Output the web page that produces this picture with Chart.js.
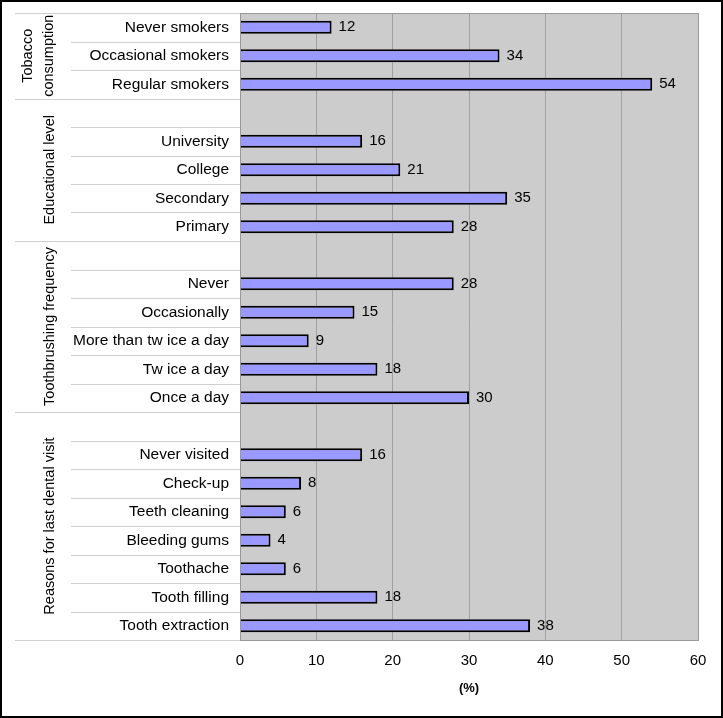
<!DOCTYPE html>
<html>
<head>
<meta charset="utf-8">
<script src="https://cdn.jsdelivr.net/npm/chart.js@4"></script>
<style>
  html, body { margin: 0; padding: 0; background: #fff; }
  #wrap { width: 723px; height: 718px; position: relative; }
</style>
</head>
<body>
<div id="wrap"><canvas id="chart" width="723" height="718"></canvas></div>
<script>
// categories top to bottom; '' rows are the gaps between groups
const categories = [
  'Never smokers', 'Occasional smokers', 'Regular smokers',
  '',
  'University', 'College', 'Secondary', 'Primary',
  '',
  'Never', 'Occasionally', 'More than tw ice a day', 'Tw ice a day', 'Once a day',
  '',
  'Never visited', 'Check-up', 'Teeth cleaning', 'Bleeding gums', 'Toothache', 'Tooth filling', 'Tooth extraction'
];
const values = [
  12, 34, 54,
  null,
  16, 21, 35, 28,
  null,
  28, 15, 9, 18, 30,
  null,
  16, 8, 6, 4, 6, 18, 38
];
// groups: [label lines, first row index, last row index]
const groups = [
  [['Tobacco', 'consumption'], 0, 2],
  [['Educational level'], 3, 7],
  [['Toothbrushing frequency'], 8, 13],
  [['Reasons for last dental visit'], 14, 21]
];
const xTicks = [0, 10, 20, 30, 40, 50, 60];
const xTitle = '(%)';

const FONT = '"Liberation Sans", Arial, sans-serif';

const decor = {
  id: 'decor',
  beforeDraw(chart) {
    const { ctx, chartArea: a } = chart;
    ctx.save();
    ctx.fillStyle = '#cccccc';
    ctx.fillRect(a.left, a.top, a.right - a.left, a.bottom - a.top);
    ctx.restore();
  },
  afterDraw(chart) {
    const { ctx, chartArea: a } = chart;
    const y = chart.scales.y;
    const half = (y.getPixelForValue(1) - y.getPixelForValue(0)) / 2;
    const groupEdges = new Set();
    groups.forEach(g => { groupEdges.add(g[1]); groupEdges.add(g[2] + 1); });
    ctx.save();
    // row separators in the label area
    ctx.strokeStyle = '#cfcfcf';
    ctx.lineWidth = 1;
    for (let i = 0; i <= categories.length; i++) {
      const py = Math.round(y.getPixelForValue(i) - half) + 0.5;
      const x0 = groupEdges.has(i) ? 15 : 71;
      ctx.beginPath();
      ctx.moveTo(x0, py);
      ctx.lineTo(a.left, py);
      ctx.stroke();
    }
    // plot border
    ctx.strokeStyle = '#999999';
    ctx.strokeRect(Math.round(a.left) + 0.5, Math.round(a.top) + 0.5,
      Math.round(a.right - a.left), Math.round(a.bottom - a.top));
    // group labels, rotated
    ctx.fillStyle = '#000';
    ctx.font = '14.5px ' + FONT;
    ctx.textAlign = 'center';
    ctx.textBaseline = 'middle';
    groups.forEach(([lines, first, last]) => {
      const top = y.getPixelForValue(first) - half;
      const bot = y.getPixelForValue(last) + half;
      const cy = (top + bot) / 2;
      ctx.save();
      ctx.translate(0, cy);
      ctx.rotate(-Math.PI / 2);
      if (lines.length === 2) {
        ctx.fillText(lines[0], 0, 28);
        ctx.fillText(lines[1], 0, 49);
      } else {
        ctx.fillText(lines[0], 0, 50);
      }
      ctx.restore();
    });
    // value labels
    const meta = chart.getDatasetMeta(0);
    ctx.font = '15px ' + FONT;
    ctx.textAlign = 'left';
    meta.data.forEach((bar, i) => {
      if (values[i] == null) return;
      ctx.fillText(String(values[i]), bar.x + 7, bar.y);
    });
    // outer frame
    ctx.strokeStyle = '#000';
    ctx.lineWidth = 2;
    ctx.strokeRect(1, 1, 721, 716);
    ctx.restore();
  }
};

new Chart(document.getElementById('chart'), {
  type: 'bar',
  data: {
    labels: categories,
    datasets: [{
      data: values,
      backgroundColor: '#9999ff',
      borderColor: '#000000',
      borderWidth: 2,
      borderSkipped: 'left',
      barPercentage: 0.46,
      categoryPercentage: 1
    }]
  },
  options: {
    indexAxis: 'y',
    responsive: false,
    animation: false,
    layout: { padding: { top: 13, right: 25, left: 0, bottom: 0 } },
    plugins: { legend: { display: false }, tooltip: { enabled: false } },
    scales: {
      y: {
        afterFit(scale) {
          scale.width = 240;
          scale.paddingTop = 0;
          scale.paddingBottom = 0;
        },
        grid: { display: false, drawTicks: false },
        border: { display: false },
        ticks: {
          color: '#000',
          padding: 11,
          autoSkip: false,
          font: { family: FONT, size: 15.5 }
        }
      },
      x: {
        min: 0,
        max: 60,
        afterFit(scale) { scale.height = 78; },
        afterBuildTicks(scale) { scale.ticks = xTicks.map(v => ({ value: v })); },
        grid: { color: '#a0a0a0', drawTicks: false },
        border: { display: false },
        ticks: {
          color: '#000',
          padding: 12,
          font: { family: FONT, size: 15 }
        },
        title: {
          display: true,
          text: xTitle,
          color: '#000',
          padding: { top: 0, bottom: 22 },
          font: { family: FONT, size: 13, weight: 'bold' }
        }
      }
    }
  },
  plugins: [decor]
});
</script>
</body>
</html>
